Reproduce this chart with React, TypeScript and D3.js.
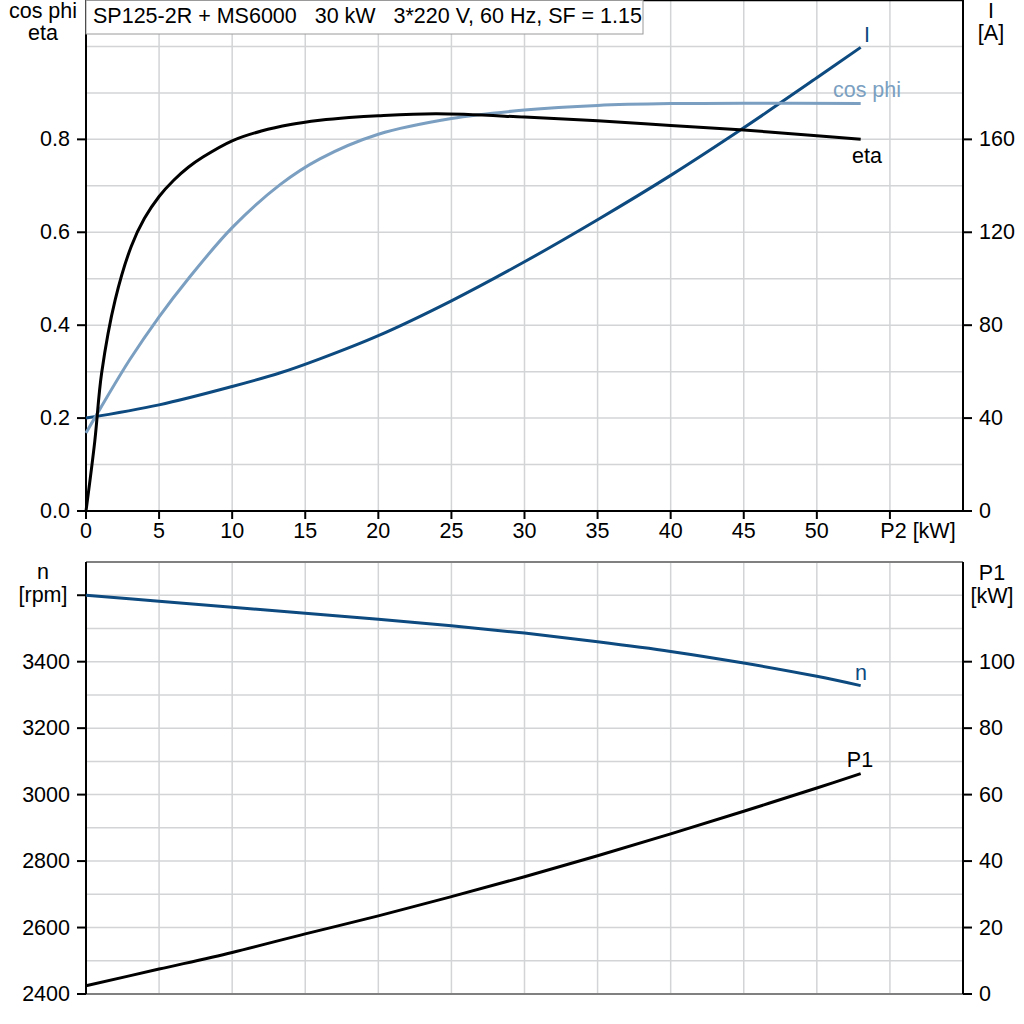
import React from "react";
import * as d3 from "d3";

// ---------- data ----------
const etaP2 = [0, 0.6, 1.07, 2, 3.1, 4, 5, 6, 7, 8, 10, 12, 14, 16, 18, 20, 24, 30, 35, 40, 45, 50, 53];
const etaVals = [0, 0.15, 0.297, 0.455, 0.57, 0.63, 0.677, 0.712, 0.74, 0.762, 0.797, 0.818, 0.832, 0.841, 0.847, 0.851, 0.855, 0.848, 0.84, 0.83, 0.82, 0.808, 0.8];

const cosP2 = [0, 1, 3, 5, 7, 10, 13.3, 16, 20, 25, 30, 35, 40, 45, 53];
const cosVals = [0.168, 0.222, 0.326, 0.418, 0.5, 0.61, 0.703, 0.758, 0.811, 0.845, 0.863, 0.873, 0.877, 0.878, 0.877];

const curP2 = [0, 5, 10, 13.3, 16, 20, 25, 30, 35, 40, 45, 50, 53];
const curVals = [40, 45.7, 53.6, 59.5, 65.5, 75.5, 90.5, 107.3, 125.4, 144.5, 165, 186.5, 199.6];

const lowP2 = [0, 5, 10, 15, 20, 25, 30, 35, 40, 45, 50, 53];
const speedVals = [3600, 3582, 3564, 3546, 3528, 3508, 3486, 3460, 3431, 3396, 3356, 3328];
const p1Vals = [2.5, 7.5, 12.5, 18.1, 23.5, 29.3, 35.3, 41.6, 48.2, 55.0, 62.0, 66.3];

const xTicks = [0, 5, 10, 15, 20, 25, 30, 35, 40, 45, 50];
const xTickMarks = [0, 5, 10, 15, 20, 25, 30, 35, 40, 45, 50, 55];
const leftTopTicks = [0, 0.2, 0.4, 0.6, 0.8];
const rightTopTicks = [0, 40, 80, 120, 160];
const leftBotTicks = [2400, 2600, 2800, 3000, 3200, 3400];
const rightBotTicks = [0, 20, 40, 60, 80, 100];

const title = "SP125-2R + MS6000   30 kW   3*220 V, 60 Hz, SF = 1.15";

const DARK = "#0d4a7f";
const LIGHT = "#7b9fc1";
const GRID = "#d2d4d6";
const FONT = "'Liberation Sans', Arial, sans-serif";

export default function App() {
  const L = 86, R = 963;
  const topT = 0, topB = 511;
  const botT = 562, botB = 994;

  const x = d3.scaleLinear().domain([0, 60]).range([L, R]);
  const yEta = d3.scaleLinear().domain([0, 1.1]).range([topB, topT]);
  const yI = d3.scaleLinear().domain([0, 220]).range([topB, topT]);
  const yN = d3.scaleLinear().domain([2400, 3700]).range([botB, botT]);
  const yP1 = d3.scaleLinear().domain([0, 130]).range([botB, botT]);

  const mk = (xs: number[], ys: number[], ys2: (v: number) => number) =>
    d3.line<number>()
      .x((_, i) => x(xs[i]))
      .y((v) => ys2(v))
      .curve(d3.curveCatmullRom.alpha(0.5))(ys) || "";

  const xGrid = d3.range(5, 60, 5);
  const topHGrid = d3.range(1, 11).map((k) => k / 10);
  const botHGrid = d3.range(2500, 3700, 100);

  const fs = 21.5;

  return (
    <svg
      width={1024}
      height={1024}
      style={{ position: "absolute", left: 0, top: 0, background: "#fff" }}
      fontFamily={FONT}
      fontSize={fs}
    >
      <rect x={0} y={0} width={1024} height={1024} fill="#fff" />
      {/* ---------- top panel ---------- */}
      <g>
        {xGrid.map((v) => (
          <line key={"tx" + v} x1={x(v)} x2={x(v)} y1={topT} y2={topB} stroke={GRID} strokeWidth={1.5} />
        ))}
        {topHGrid.map((v) => (
          <line key={"ty" + v} x1={L} x2={R} y1={yEta(v)} y2={yEta(v)} stroke={GRID} strokeWidth={1.5} />
        ))}
        <line x1={L} x2={R} y1={0.5} y2={0.5} stroke="#000" strokeWidth={1.5} />
        <line x1={L} x2={L} y1={topT} y2={topB} stroke="#000" strokeWidth={2} />
        <line x1={R} x2={R} y1={topT} y2={topB} stroke="#000" strokeWidth={2} />
        <line x1={L - 9} x2={R + 9} y1={topB} y2={topB} stroke="#000" strokeWidth={2} />
        {xTickMarks.map((v) => (
          <line key={"xm" + v} x1={x(v)} x2={x(v)} y1={topB} y2={topB + 8} stroke="#000" strokeWidth={2} />
        ))}
        {xTicks.map((v) => (
          <text key={"xt" + v} x={x(v)} y={538} textAnchor="middle">{v}</text>
        ))}
        <text x={918} y={538} textAnchor="middle">P2 [kW]</text>
        {leftTopTicks.map((v) => (
          <g key={"lt" + v}>
            <line x1={L - 9} x2={L} y1={yEta(v)} y2={yEta(v)} stroke="#000" strokeWidth={2} />
            <text x={70} y={yEta(v) + 7} textAnchor="end">{v.toFixed(1)}</text>
          </g>
        ))}
        {rightTopTicks.map((v) => (
          <g key={"rt" + v}>
            <line x1={R} x2={R + 9} y1={yI(v)} y2={yI(v)} stroke="#000" strokeWidth={2} />
            <text x={979} y={yI(v) + 7} textAnchor="start">{v}</text>
          </g>
        ))}
        <text x={43} y={18} textAnchor="middle">cos phi</text>
        <text x={43} y={40} textAnchor="middle">eta</text>
        <text x={991} y={18} textAnchor="middle">I</text>
        <text x={991} y={40} textAnchor="middle">[A]</text>

        <path d={mk(curP2, curVals, yI)} fill="none" stroke={DARK} strokeWidth={3} />
        <path d={mk(cosP2, cosVals, yEta)} fill="none" stroke={LIGHT} strokeWidth={3} />
        <path d={mk(etaP2, etaVals, yEta)} fill="none" stroke="#000" strokeWidth={3} />

        <text x={867} y={42} textAnchor="middle" fill={DARK}>I</text>
        <text x={867} y={97} textAnchor="middle" fill={LIGHT}>cos phi</text>
        <text x={867} y={163} textAnchor="middle" fill="#000">eta</text>

        <rect x={86} y={0.5} width={557} height={33.5} fill="#fff" stroke="#9a9a9a" strokeWidth={1} />
        <text x={93} y={23} style={{ whiteSpace: "pre" }}>{title}</text>
      </g>

      {/* ---------- bottom panel ---------- */}
      <g>
        {xGrid.map((v) => (
          <line key={"bx" + v} x1={x(v)} x2={x(v)} y1={botT} y2={botB} stroke={GRID} strokeWidth={1.5} />
        ))}
        {botHGrid.map((v) => (
          <line key={"by" + v} x1={L} x2={R} y1={yN(v)} y2={yN(v)} stroke={GRID} strokeWidth={1.5} />
        ))}
        <line x1={L} x2={R} y1={botT} y2={botT} stroke="#808080" strokeWidth={2} />
        <line x1={L} x2={R} y1={botB} y2={botB} stroke="#808080" strokeWidth={2} />
        <line x1={L} x2={L} y1={botT} y2={botB} stroke="#000" strokeWidth={2} />
        <line x1={R} x2={R} y1={botT} y2={botB} stroke="#000" strokeWidth={2} />
        {[...leftBotTicks, 3600].map((v) => (
          <line key={"lbt" + v} x1={L - 9} x2={L} y1={yN(v)} y2={yN(v)} stroke="#000" strokeWidth={2} />
        ))}
        {leftBotTicks.map((v) => (
          <text key={"lbl" + v} x={70} y={yN(v) + 7} textAnchor="end">{v}</text>
        ))}
        {rightBotTicks.map((v) => (
          <g key={"rbt" + v}>
            <line x1={R} x2={R + 9} y1={yP1(v)} y2={yP1(v)} stroke="#000" strokeWidth={2} />
            <text x={979} y={yP1(v) + 7} textAnchor="start">{v}</text>
          </g>
        ))}
        <text x={43} y={579} textAnchor="middle">n</text>
        <text x={43} y={602} textAnchor="middle">[rpm]</text>
        <text x={992} y={580} textAnchor="middle">P1</text>
        <text x={992} y={603} textAnchor="middle">[kW]</text>

        <path d={mk(lowP2, speedVals, yN)} fill="none" stroke={DARK} strokeWidth={3} />
        <path d={mk(lowP2, p1Vals, yP1)} fill="none" stroke="#000" strokeWidth={3} />

        <text x={861} y={680} textAnchor="middle" fill={DARK}>n</text>
        <text x={860} y={767} textAnchor="middle" fill="#000">P1</text>
      </g>
    </svg>
  );
}
